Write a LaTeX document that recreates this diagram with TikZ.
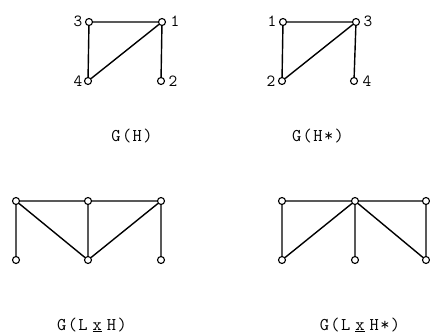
\documentclass[tikz,border=0pt]{standalone}
\usepackage{fontspec}
\setmainfont{Liberation Mono}
\setmonofont[LetterSpace=8]{Latin Modern Mono}
\begin{document}
\begin{tikzpicture}[x=1bp,y=-1bp,
  vtx/.style={circle,draw,fill=white,inner sep=0pt,minimum size=7bp,line width=1.1bp},
  edge/.style={line width=1.4bp},
  lbl/.style={font=\ttfamily\fontsize{17}{17}\selectfont,inner sep=0pt},
  captxt/.style={font=\ttfamily\fontsize{18}{18}\selectfont,inner sep=0pt}]
\useasboundingbox (0,0) rectangle (430,335);
% G(H)
\node[vtx] (a3) at (89,22) {};
\node[vtx] (a1) at (162,22) {};
\node[vtx] (a4) at (88,81) {};
\node[vtx] (a2) at (161,81) {};
\draw[edge] (a3) -- (a1) (a3) -- (a4) (a4) -- (a1) (a1) -- (a2);
\node[lbl] (la3) at (78,21) {3};
\node[lbl] (la1) at (175,21) {1};
\node[lbl] (la4) at (78,81) {4};
\node[lbl] (la2) at (173,81) {2};
\node[captxt] (ca) at (132,136) {G(H)};
% G(H*)
\node[vtx] (b1) at (283,22) {};
\node[vtx] (b3) at (356,22) {};
\node[vtx] (b2) at (282,81) {};
\node[vtx] (b4) at (354,81) {};
\draw[edge] (b1) -- (b3) (b1) -- (b2) (b2) -- (b3) (b3) -- (b4);
\node[lbl] (lb1) at (272,21) {1};
\node[lbl] (lb3) at (368,21) {3};
\node[lbl] (lb2) at (271,81) {2};
\node[lbl] (lb4) at (367,81) {4};
\node[captxt] (cb) at (318,136) {G(H*)};
% G(L x H)
\node[vtx] (c1) at (16,201) {};
\node[vtx] (c2) at (88,201) {};
\node[vtx] (c3) at (161,201) {};
\node[vtx] (c4) at (16,260) {};
\node[vtx] (c5) at (88,260) {};
\node[vtx] (c6) at (161,260) {};
\draw[edge] (c1) -- (c2) (c2) -- (c3) (c1) -- (c4) (c2) -- (c5) (c3) -- (c6) (c1) -- (c5) (c3) -- (c5);
\node[captxt] (cc) at (92,325) {G(L\kern5bp\underline{x}\kern5bp H)};
% G(L x H*)
\node[vtx] (d1) at (282,201) {};
\node[vtx] (d2) at (355,201) {};
\node[vtx] (d3) at (426,201) {};
\node[vtx] (d4) at (282,260) {};
\node[vtx] (d5) at (355,260) {};
\node[vtx] (d6) at (426,260) {};
\draw[edge] (d1) -- (d2) (d2) -- (d3) (d1) -- (d4) (d2) -- (d5) (d3) -- (d6) (d2) -- (d4) (d2) -- (d6);
\node[captxt] (cd) at (360,325) {G(L\kern5bp\underline{x}\kern5bp H*)};
\end{tikzpicture}
\end{document}
